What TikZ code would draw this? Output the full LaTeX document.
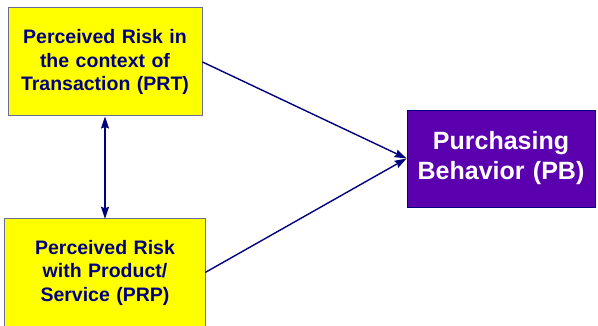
\documentclass[tikz,border=0pt]{standalone}
\usepackage{fontspec}
\setmainfont{Liberation Sans}
\usepackage{tikz}
\usetikzlibrary{arrows.meta}

\definecolor{riskyellow}{HTML}{FFFF00}
\definecolor{riskborder}{HTML}{6B6B9B}
\definecolor{risknavy}{HTML}{000080}
\definecolor{pbpurple}{HTML}{5A00AE}

\begin{document}
\begin{tikzpicture}[x=1pt, y=1pt, >={Stealth[length=12pt, width=8pt, inset=1.5pt]}]

    \useasboundingbox (0,0) rectangle (598,326);

    % Cajas de riesgo percibido
    \node[draw=riskborder, fill=riskyellow, line width=1pt, inner sep=0pt,
        minimum width=194pt, minimum height=108pt,
        text width=190pt, align=center, text=risknavy,
        font=\bfseries\fontsize{19.5}{23.5}\selectfont]
        (prt) at (105,264) {Perceived Risk in\\the context of\\Transaction (PRT)};
    \node[fill=riskyellow, inner sep=0pt,
        minimum width=200pt, minimum height=107pt,
        text width=196pt, align=center, text=risknavy,
        font=\bfseries\fontsize{19.5}{23.5}\selectfont]
        (prp) at (105,53.5) {Perceived Risk\\with Product/\\Service (PRP)};
    % la caja de abajo sigue fuera del borde
    \draw[riskborder, line width=1pt]
        (prp.south west) -- (prp.north west) -- (prp.north east) -- (prp.south east);

    % Comportamiento de compra
    \node[draw=risknavy, fill=pbpurple, line width=0.8pt, inner sep=0pt,
        minimum width=188pt, minimum height=97pt,
        text width=184pt, align=center, text=white,
        font=\bfseries\fontsize{25}{30}\selectfont]
        (pb) at (501,167.5) {Purchasing\\Behavior (PB)};

    % Flechas
    \draw[<->, risknavy, line width=1.4pt] (prt.south) -- (prp.north);
    \draw[->, risknavy, line width=1.4pt] (prt.east) -- (pb.west);
    \draw[->, risknavy, line width=1.4pt] (prp.east) -- (pb.west);

\end{tikzpicture}
\end{document}
